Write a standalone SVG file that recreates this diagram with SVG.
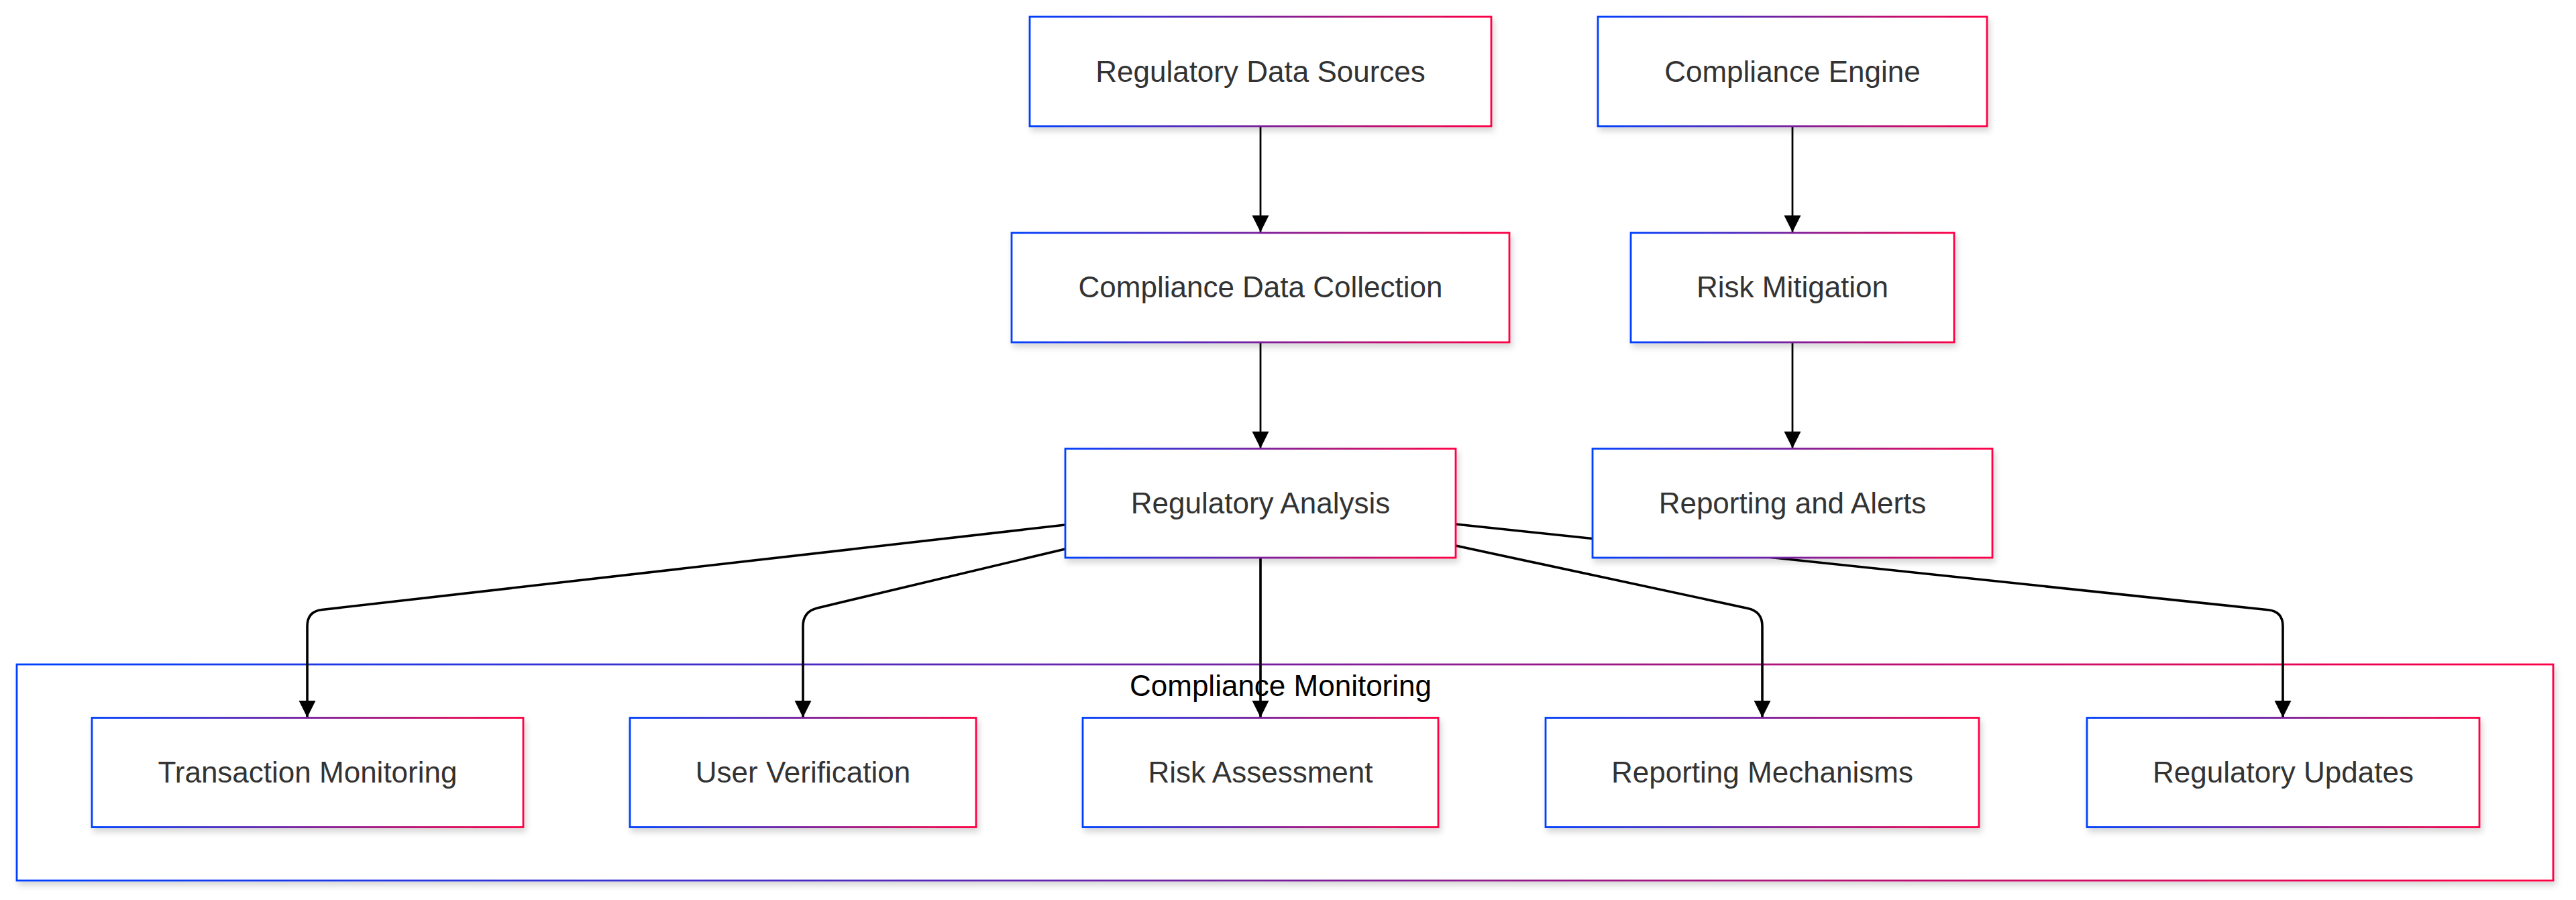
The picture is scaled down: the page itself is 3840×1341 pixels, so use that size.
<svg xmlns="http://www.w3.org/2000/svg" width="3840" height="1341" viewBox="0 0 3840 1341">
<defs>
<linearGradient id="grad" x1="0" y1="0" x2="1" y2="0">
<stop offset="0" stop-color="#0040ff"/>
<stop offset="0.5" stop-color="#7a1f9c"/>
<stop offset="1" stop-color="#ff0044"/>
</linearGradient>
<filter id="shadow" x="-10%" y="-20%" width="120%" height="150%">
<feDropShadow dx="3" dy="6" stdDeviation="5" flood-color="#000" flood-opacity="0.16"/>
</filter>
<marker id="arrow" markerUnits="userSpaceOnUse" markerWidth="26" markerHeight="26" refX="25" refY="12.5" orient="auto">
<path d="M0,0 L25,12.5 L0,25 z" fill="#000"/>
</marker>
<style>
.node rect{fill:#fff;stroke:url(#grad);stroke-width:2.8;filter:url(#shadow);}
.node text{font-family:"Liberation Sans",Arial,sans-serif;font-size:44px;fill:#333;text-anchor:middle;}
.cluster rect{fill:#fff;stroke:url(#grad);stroke-width:2.8;filter:url(#shadow);}
.cluster text{font-family:"Liberation Sans",Arial,sans-serif;font-size:44px;fill:#000;text-anchor:middle;}
.edges path{fill:none;stroke:#000;stroke-width:2.8;marker-end:url(#arrow);}
.edges path.fan{stroke-width:3.6;}
</style>
</defs>
<rect width="3840" height="1341" fill="#fff"/>

<g id="cluster-compliance-monitoring" class="cluster">
<rect x="25" y="990" width="3781" height="322"/>
<text x="1909" y="1037">Compliance Monitoring</text>
</g>

<g id="edges" class="edges">
<path d="M1879,188 L1879,346"/>
<path d="M2672,188 L2672,346"/>
<path d="M1879,510 L1879,668"/>
<path d="M2672,510 L2672,668"/>
<path class="fan" d="M1588,782 L479.9,908.5 Q458,911 458,933 L458,1069"/>
<path class="fan" d="M1588,818 L1218.4,905.9 Q1197,911 1197,933 L1197,1069"/>
<path class="fan" d="M1879,831 L1879,1069"/>
<path class="fan" d="M2170,813 L2605.5,906.4 Q2627,911 2627,933 L2627,1069"/>
<path class="fan" d="M2170,781 L3381.1,908.7 Q3403,911 3403,933 L3403,1069"/>
</g>

<g id="regulatory-data-sources" class="node">
<rect x="1535" y="25" width="688" height="163"/>
<text x="1879" y="122">Regulatory Data Sources</text>
</g>
<g id="compliance-engine" class="node">
<rect x="2382" y="25" width="580" height="163"/>
<text x="2672" y="122">Compliance Engine</text>
</g>
<g id="compliance-data-collection" class="node">
<rect x="1508" y="347" width="742" height="163"/>
<text x="1879" y="443">Compliance Data Collection</text>
</g>
<g id="risk-mitigation" class="node">
<rect x="2431" y="347" width="482" height="163"/>
<text x="2672" y="443">Risk Mitigation</text>
</g>
<g id="regulatory-analysis" class="node">
<rect x="1588" y="668.5" width="582" height="162.5"/>
<text x="1879" y="765">Regulatory Analysis</text>
</g>
<g id="reporting-and-alerts" class="node">
<rect x="2374" y="668.5" width="596" height="162.5"/>
<text x="2672" y="765">Reporting and Alerts</text>
</g>
<g id="transaction-monitoring" class="node">
<rect x="137" y="1069.5" width="643" height="163"/>
<text x="458.5" y="1166">Transaction Monitoring</text>
</g>
<g id="user-verification" class="node">
<rect x="939" y="1069.5" width="516" height="163"/>
<text x="1197" y="1166">User Verification</text>
</g>
<g id="risk-assessment" class="node">
<rect x="1614" y="1069.5" width="530" height="163"/>
<text x="1879" y="1166">Risk Assessment</text>
</g>
<g id="reporting-mechanisms" class="node">
<rect x="2304" y="1069.5" width="646" height="163"/>
<text x="2627" y="1166">Reporting Mechanisms</text>
</g>
<g id="regulatory-updates" class="node">
<rect x="3111" y="1069.5" width="585" height="163"/>
<text x="3403.5" y="1166">Regulatory Updates</text>
</g>
</svg>
